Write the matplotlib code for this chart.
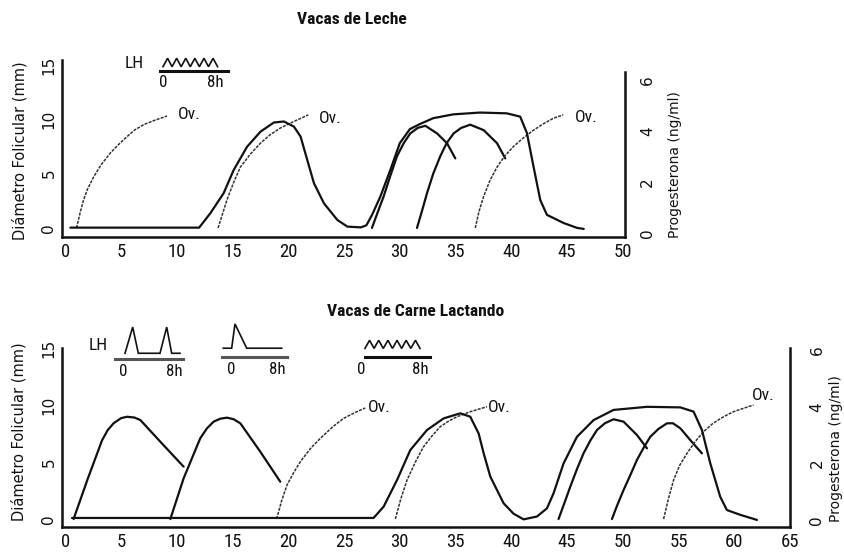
import os
import matplotlib
matplotlib.use('Agg')
import matplotlib.pyplot as plt
from matplotlib import font_manager
from matplotlib.font_manager import FontProperties

# ---- data (day, mm / ng/ml) ----
top_prog_day = [0.45, 12.0, 13.0, 14.2, 15.1, 16.3, 17.5, 18.7, 19.6, 20.5, 21.1, 21.7, 22.3, 23.2, 24.4,
                25.3, 26.5, 27.0, 27.5, 28.25, 29.15, 30.0, 30.9, 31.8, 33.0, 34.8, 37.2, 39.6, 40.8, 41.4,
                42.0, 42.6, 43.2, 44.7, 45.9, 46.5]
top_prog_ng = [0.21, 0.21, 0.77, 1.56, 2.47, 3.38, 3.97, 4.33, 4.37, 4.17, 3.78, 2.86, 1.95, 1.16, 0.51,
               0.25, 0.22, 0.3, 0.7, 1.42, 2.47, 3.52, 4.07, 4.27, 4.50, 4.65, 4.72, 4.69, 4.56, 3.92,
               2.59, 1.29, 0.71, 0.39, 0.20, 0.16]

top_ov1_day = [1.0, 1.3, 1.64, 2.0, 2.54, 3.2, 4.04, 4.8, 5.53, 6.2, 7.02, 8.0, 9.12]
top_ov1_mm = [0.0, 1.3, 2.6, 3.6, 4.7, 5.8, 6.9, 7.7, 8.4, 9.0, 9.5, 9.9, 10.3]
top_ov2_day = [13.7, 14.1, 14.5, 15.1, 15.7, 16.6, 17.5, 18.4, 19.3, 20.5, 21.8]
top_ov2_mm = [0.0, 1.3, 2.6, 4.2, 5.6, 6.8, 7.8, 8.6, 9.2, 9.8, 10.4]
top_fa_day = [27.5, 28.0, 28.55, 29.15, 29.75, 30.35, 30.94, 31.6, 32.29, 33.34, 34.23, 34.98]
top_fa_mm = [0.0, 1.4, 2.9, 4.8, 6.6, 7.8, 8.7, 9.2, 9.4, 8.7, 7.8, 6.4]
top_fb_day = [31.54, 32.0, 32.44, 33.0, 33.63, 34.2, 34.83, 35.5, 36.32, 37.52, 38.72, 39.46]
top_fb_mm = [0.0, 1.6, 3.2, 5.0, 6.6, 7.8, 8.7, 9.2, 9.5, 9.0, 7.8, 6.4]
top_ov3_day = [36.77, 37.1, 37.52, 38.1, 38.72, 39.4, 40.2, 41.1, 42.0, 42.9, 43.8, 44.66]
top_ov3_mm = [0.0, 1.5, 2.9, 4.4, 5.6, 6.6, 7.5, 8.3, 9.0, 9.6, 10.1, 10.4]
top_ovlab_day = [10.1, 22.7, 45.7]
top_ovlab_mm = [10.4, 10.1, 10.2]

bot_prog_day = [0.6, 27.65, 28.55, 29.75, 30.94, 32.44, 33.93, 35.43, 36.32, 37.07, 37.52, 38.12, 39.31,
                40.2, 41.1, 42.3, 43.2, 43.79, 44.69, 45.89, 47.38, 49.17, 52.17, 55.16, 56.35, 57.1,
                57.85, 58.74, 59.34, 60.54, 62.04]
bot_prog_ng = [0.07, 0.07, 0.47, 1.41, 2.47, 3.18, 3.59, 3.77, 3.65, 3.06, 2.36, 1.53, 0.59,
               0.22, 0.02, 0.12, 0.41, 0.94, 2.0, 2.94, 3.53, 3.89, 4.0, 3.98, 3.83, 3.18,
               2.0, 0.82, 0.35, 0.18, 0.0]

bot_f1_day = [0.74, 2.0, 3.29, 3.8, 4.33, 5.0, 5.53, 6.2, 6.73, 8.52, 10.61]
bot_f1_mm = [0.0, 3.5, 6.9, 7.8, 8.4, 8.85, 8.97, 8.9, 8.68, 6.78, 4.59]
bot_f2_day = [9.42, 10.61, 12.1, 12.7, 13.3, 13.9, 14.5, 15.1, 15.7, 17.49, 19.28]
bot_f2_mm = [0.0, 3.57, 7.08, 7.95, 8.54, 8.8, 8.89, 8.75, 8.39, 5.9, 3.27]
bot_ov1_day = [18.95, 19.4, 19.88, 20.5, 21.08, 22.0, 22.87, 24.0, 24.96, 26.0, 26.9]
bot_ov1_mm = [0.0, 1.6, 2.98, 4.1, 5.03, 6.2, 7.08, 8.1, 8.83, 9.35, 9.74]
bot_ov2_day = [29.6, 30.1, 30.65, 31.4, 32.13, 32.9, 33.63, 34.4, 35.13, 36.32, 37.82]
bot_ov2_mm = [0.0, 1.8, 3.42, 5.0, 6.34, 7.3, 8.1, 8.6, 8.97, 9.41, 9.85]
bot_fa_day = [44.24, 44.8, 45.29, 45.9, 46.48, 47.1, 47.69, 48.4, 49.17, 50.07, 51.27, 52.17]
bot_fa_mm = [0.0, 1.5, 2.83, 4.4, 5.76, 6.9, 7.81, 8.4, 8.75, 8.54, 7.37, 6.2]
bot_fb_day = [49.03, 49.5, 50.07, 50.7, 51.27, 51.9, 52.47, 53.2, 53.96, 54.5, 55.16, 56.05, 57.1]
bot_fb_mm = [0.0, 1.2, 2.54, 3.9, 5.18, 6.3, 7.22, 7.9, 8.39, 8.4, 7.96, 6.93, 5.76]
bot_ov3_day = [53.66, 54.1, 54.56, 55.1, 55.76, 56.5, 57.25, 58.1, 59.04, 59.9, 60.83, 61.73]
bot_ov3_mm = [0.0, 1.8, 3.42, 4.7, 5.76, 6.8, 7.66, 8.4, 8.97, 9.4, 9.71, 10.0]
bot_ovlab_day = [27.1, 37.9, 61.6]
bot_ovlab_mm = [9.8, 9.8, 10.8]

# LH pulse sketches (hours, relative level)
lh_top_t = [0.0, 0.7, 1.4, 2.1, 2.8, 3.5, 4.2, 4.9, 5.6, 6.3, 7.0, 7.7, 8.4]
lh_top_v = [0, 1, 0, 1, 0, 1, 0, 1, 0, 1, 0, 1, 0]
lh_b1_t = [0.27, 1.48, 2.37, 5.79, 6.85, 7.63, 8.94]
lh_b1_v = [0, 1, 0, 0, 1, 0, 0]
lh_b2_t = [-1.47, 0.0, 0.58, 2.63, 8.77]
lh_b2_v = [0, 0, 1, 0, 0]
lh_b3_t = [0.45, 1.08, 1.7, 2.33, 2.96, 3.6, 4.22, 4.85, 5.48, 6.1, 6.74, 7.37, 8.0]
lh_b3_v = [0, 1, 0, 1, 0, 1, 0, 1, 0, 1, 0, 1, 0]

W, H = 844, 556
INK = '#111111'
ROT = 'DejaVu Sans'


# the scan uses a tall narrow face for horizontal text: look for a condensed sans
def find_narrow(bold):
    prefs = [('liberationsansnarrow', 1.0), ('robotocondensed', 0.9), ('opensanscondensed', 0.9),
             ('notosans-condensed', 0.9), ('notosanscondensed', 0.9), ('dejavusanscondensed', 0.8)]
    files = [f.fname for f in font_manager.fontManager.ttflist]
    for key, scale in prefs:
        for fn in files:
            b = os.path.basename(fn).lower().replace('_', '').replace(' ', '')
            if not b.startswith(key) and key not in b:
                continue
            if any(k in b for k in ['italic', 'oblique', 'semi', 'extra', 'light', 'black', 'medium', 'thin']):
                continue
            if ('bold' in b) == bold:
                return fn, scale
    return None, 0.8


nfile, NS = find_narrow(False)
bfile, _ = find_narrow(True)


def nprop(size, bold=False):
    f = bfile if bold else nfile
    if f:
        return FontProperties(fname=f, size=size * NS)
    return FontProperties(family='DejaVu Sans', size=size * NS, weight='bold' if bold else 'normal')


fig = plt.figure(figsize=(W / 100, H / 100), dpi=100)
fig.patch.set_facecolor('white')


def px_axes(x0, ytop, x1, ybot):
    return fig.add_axes([x0 / W, 1 - ybot / H, (x1 - x0) / W, (ybot - ytop) / H])


def setup_panel(ax, xlim, xmax_tick, ylim_mm, ylim_ng, ng_spine_top, rpad, lab_l, lab_r):
    ax.set_xlim(xlim)
    ax.set_ylim(ylim_mm)
    ax.set_xticks(range(0, xmax_tick + 1, 5))
    ax.set_yticks([0, 5, 10, 15])
    for s in ['top', 'right']:
        ax.spines[s].set_visible(False)
    for s in ['left', 'bottom']:
        ax.spines[s].set_linewidth(1.8)
        ax.spines[s].set_color(INK)
    ax.tick_params(axis='x', length=0, pad=4, labelcolor=INK)
    for t in ax.get_xticklabels():
        t.set_fontproperties(nprop(15))
    ax.tick_params(axis='y', length=0, pad=4, labelsize=11, labelrotation=90, labelfontfamily=ROT,
                   labelcolor=INK)
    for t in ax.get_yticklabels():
        t.set_va('center')
    ax.set_ylabel('Diámetro Folicular (mm)', fontsize=10.5, family=ROT, color=INK)
    ax.yaxis.set_label_coords(*lab_l)
    ax.yaxis.label.set_va('center')

    ax2 = ax.twinx()
    ax2.set_ylim(ylim_ng)
    ax2.set_yticks([0, 2, 4, 6])
    for s in ['top', 'left', 'bottom']:
        ax2.spines[s].set_visible(False)
    ax2.spines['right'].set_linewidth(1.8)
    ax2.spines['right'].set_color(INK)
    ax2.spines['right'].set_bounds(ylim_ng[0], ng_spine_top)
    ax2.tick_params(axis='y', length=0, pad=rpad, labelsize=11, labelrotation=90, labelfontfamily=ROT,
                    labelcolor=INK)
    for t in ax2.get_yticklabels():
        t.set_va('center')
    ax2.set_ylabel('Progesterona (ng/ml)', fontsize=10, family=ROT, color=INK)
    ax2.yaxis.set_label_coords(*lab_r)
    ax2.yaxis.label.set_va('center')
    return ax2


solid = dict(color=INK, lw=1.6, solid_joinstyle='round', solid_capstyle='round')
dotted = dict(color='#333333', lw=1.1, linestyle=(0, (2.0, 0.8)))


def ov_labels(a, days, mms):
    for d, m in zip(days, mms):
        a.text(d, m, 'Ov.', ha='left', va='center', fontproperties=nprop(14), color=INK)


# ---- top panel: Vacas de Leche ----
ax = px_axes(62, 60, 625, 237)
ax2 = setup_panel(ax, (-0.3, 50.2), 50, (-0.83, 15.45), (-0.157, 6.78), 6.31, 11,
                  (-0.0746, 0.486), (1.089, 0.41))
ax2.plot(top_prog_day, top_prog_ng, **solid)
ax.plot(top_fa_day, top_fa_mm, **solid)
ax.plot(top_fb_day, top_fb_mm, **solid)
ax.plot(top_ov1_day, top_ov1_mm, **dotted)
ax.plot(top_ov2_day, top_ov2_mm, **dotted)
ax.plot(top_ov3_day, top_ov3_mm, **dotted)
ov_labels(ax, top_ovlab_day, top_ovlab_mm)

# ---- bottom panel: Vacas de Carne Lactando ----
bx = px_axes(62, 348, 790, 527)
bx2 = setup_panel(bx, (-0.3, 65.0), 65, (-0.70, 15.0), (-0.25, 6.08), 6.08, 14,
                  (-0.059, 0.53), (1.063, 0.44))
bx2.plot(bot_prog_day, bot_prog_ng, **solid)
bx.plot(bot_f1_day, bot_f1_mm, **solid)
bx.plot(bot_f2_day, bot_f2_mm, **solid)
bx.plot(bot_fa_day, bot_fa_mm, **solid)
bx.plot(bot_fb_day, bot_fb_mm, **solid)
bx.plot(bot_ov1_day, bot_ov1_mm, **dotted)
bx.plot(bot_ov2_day, bot_ov2_mm, **dotted)
bx.plot(bot_ov3_day, bot_ov3_mm, **dotted)
ov_labels(bx, bot_ovlab_day, bot_ovlab_mm)


# ---- LH pulse insets ----
def lh_inset(x0, x1, ytop, yline, xlim, ylim, t, v, dashed, spine_lo=None):
    a = px_axes(x0, ytop, x1, yline)
    a.patch.set_visible(False)
    a.plot(t, v, color=INK, lw=1.2, solid_joinstyle='miter')
    a.set_xlim(xlim)
    a.set_ylim(ylim)
    a.set_xticks([0, 8], ['0', '8h'])
    a.set_yticks([])
    for s in ['top', 'right', 'left']:
        a.spines[s].set_visible(False)
    sp = a.spines['bottom']
    sp.set_linewidth(2.2)
    if dashed:
        sp.set_color('#555555')
        sp.set_linestyle((0, (1.5, 0.7)))
    else:
        sp.set_color(INK)
    if spine_lo is not None:
        sp.set_bounds(spine_lo, xlim[1])
    a.tick_params(axis='x', length=0, pad=3.5, labelcolor=INK)
    for tl in a.get_xticklabels():
        tl.set_fontproperties(nprop(13.5))
    return a


lh_inset(160, 228, 56, 70.5, (-0.46, 10.0), (-0.45, 1.27), lh_top_t, lh_top_v, False)
lh_inset(115, 183, 325, 359.3, (-1.31, 9.42), (-0.23, 1.08), lh_b1_t, lh_b1_v, True)
lh_inset(221.7, 288.3, 322, 356.7, (-1.75, 9.93), (-0.35, 1.08), lh_b2_t, lh_b2_v, True)
lh_inset(360, 430, 338, 356.7, (-0.23, 9.37), (-1.01, 1.28), lh_b3_t, lh_b3_v, False, spine_lo=0.45)

fig.text(134 / W, 1 - 64 / H, 'LH', ha='center', va='center', fontproperties=nprop(14), color=INK)
fig.text(98 / W, 1 - 346 / H, 'LH', ha='center', va='center', fontproperties=nprop(14), color=INK)

fig.text(352 / W, 1 - 19 / H, 'Vacas de Leche', ha='center', va='center',
         fontproperties=nprop(14, bold=True), color=INK)
fig.text(416 / W, 1 - 311 / H, 'Vacas de Carne Lactando', ha='center', va='center',
         fontproperties=nprop(14, bold=True), color=INK)

fig.savefig('out.png', dpi=100, facecolor='white')
